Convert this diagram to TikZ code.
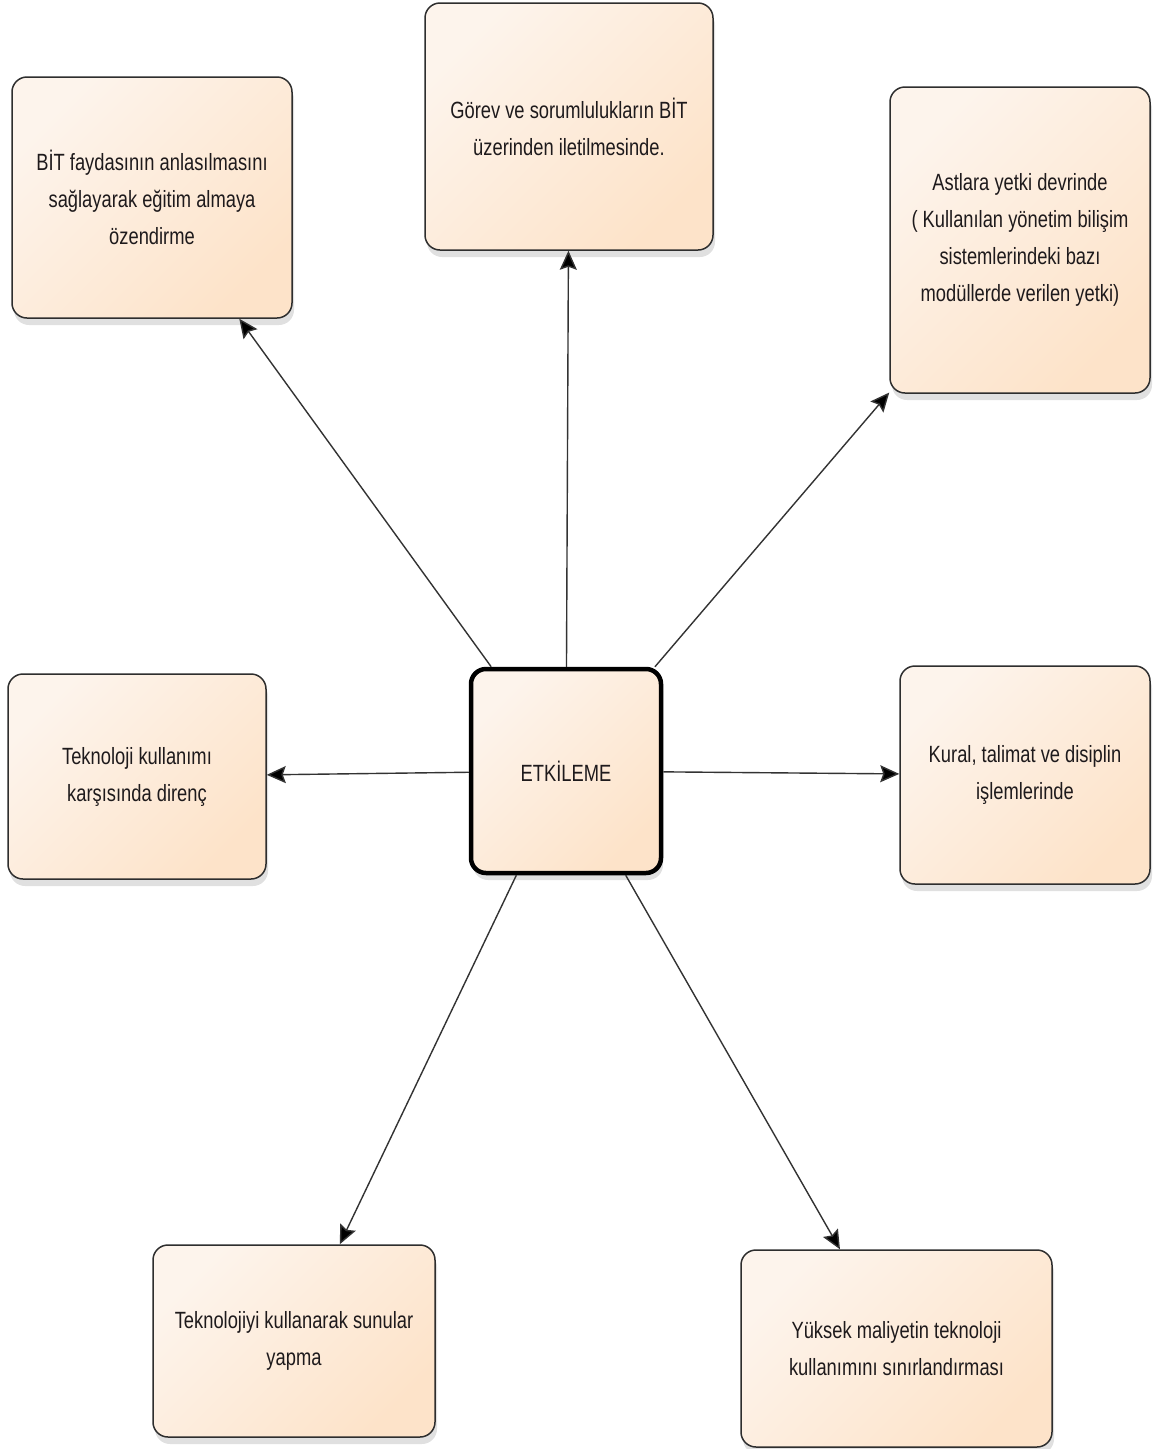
\documentclass[tikz,border=0pt]{standalone}
\usepackage{fontspec}
\setmainfont{Liberation Sans}[FakeStretch=0.78]
\usetikzlibrary{arrows.meta,shadows}
\definecolor{peachA}{HTML}{FDF4EC}
\definecolor{peachB}{HTML}{FDE3C9}
\definecolor{boxline}{HTML}{2E2E2E}
\definecolor{lnk}{HTML}{333333}
\definecolor{txt}{HTML}{1E1A1C}
\begin{document}
\begin{tikzpicture}[x=1pt,y=-1pt,
  box/.style={draw=boxline, line width=1.5pt, rounded corners=15pt,
    left color=peachA, right color=peachB, shading angle=45,
    align=center, font=\fontsize{23.5}{37}\selectfont, text=txt, inner sep=0pt,
    drop shadow={shadow xshift=2pt, shadow yshift=-7pt, opacity=0.12, fill=black}},
  hub/.style={box, draw=black, line width=4.5pt},
  link/.style={draw=lnk, line width=1.4pt, -{Stealth[length=19pt,width=17pt,inset=3pt,fill=black]}}]
\fill[white] (0,0) rectangle (1152,1449);
\useasboundingbox (0,0) rectangle (1152,1449);

\node[box, minimum width=280pt, minimum height=241pt] (b1) at (152,197.5)
  {BİT faydasının anlasılmasını\\sağlayarak eğitim almaya\\özendirme};
\node[box, minimum width=288pt, minimum height=247pt] (b2) at (569,126.5)
  {Görev ve sorumlulukların BİT\\üzerinden iletilmesinde.};
\node[box, minimum width=260pt, minimum height=306pt] (b3) at (1020,240)
  {Astlara yetki devrinde\\( Kullanılan yönetim bilişim\\sistemlerindeki bazı\\modüllerde verilen yetki)};
\node[box, minimum width=258pt, minimum height=205pt] (b4) at (137,776.5)
  {Teknoloji kullanımı\\karşısında direnç};
\node[hub, minimum width=190pt, minimum height=204pt] (c) at (566,771)
  {ETKİLEME};
\node[box, minimum width=250pt, minimum height=218pt] (b6) at (1025,775)
  {Kural, talimat ve disiplin\\işlemlerinde};
\node[box, minimum width=282pt, minimum height=192pt] (b7) at (294,1341)
  {Teknolojiyi kullanarak sunular\\yapma};
\node[box, minimum width=311pt, minimum height=197pt] (b8) at (896.5,1348.5)
  {Yüksek maliyetin teknoloji\\kullanımını sınırlandırması};

\draw[link] (c) -- (b1);
\draw[link] (c) -- (b2);
\draw[link] (c) -- (b3);
\draw[link] (c) -- (b4);
\draw[link] (c) -- (b6);
\draw[link] (c) -- (b7);
\draw[link] (c) -- (b8);
\end{tikzpicture}
\end{document}
